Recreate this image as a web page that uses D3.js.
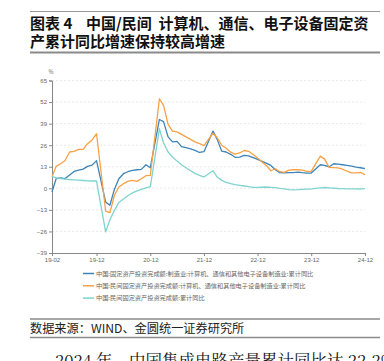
<!DOCTYPE html>
<html>
<head>
<meta charset="utf-8">
<script src="https://cdn.jsdelivr.net/npm/d3@7"></script>
<style>
  body { margin: 0; background: #fff; }
  svg { display: block; font-family: "Noto Sans CJK SC", "Noto Sans", sans-serif; }
</style>
</head>
<body>
<div id="chart"></div>
<script>
const years = [2019, 2020, 2021, 2022, 2023, 2024];
const months = [2, 3, 4, 5, 6, 7, 8, 9, 10, 11, 12];

// 中国:固定资产投资完成额:制造业:计算机、通信和其他电子设备制造业:累计同比
const chinaIct = [
    -2.2, 5.8, 6.3, 5.9, 8.0, 10.2, 11.0, 11.6, 13.2, 14.0, 16.7,
    -8.3, -10.2, -0.5, 5.8, 8.8, 10.0, 10.8, 11.2, 11.4, 14.2, 12.4,
    41.5, 40.2, 31.0, 28.0, 28.3, 25.1, 24.5, 23.8, 22.9, 21.6, 22.1,
    34.5, 29.5, 22.4, 21.9, 20.5, 18.7, 18.8, 19.8, 19.6, 18.5, 17.5,
    15.0, 13.8, 11.2, 9.4, 9.3, 9.4, 9.5, 9.8, 9.4, 9.2, 9.2,
    14.2, 13.8, 12.9, 14.8, 14.6, 14.2, 13.8, 13.4, 12.8, 12.4, 11.8
];
// 中国:民间固定资产投资完成额:计算机、通信和其他电子设备制造业:累计同比
const privateIct = [
    6.9, 13.2, 14.8, 16.8, 21.9, 22.3, 23.5, 23.5, 26.9, 29.2, 32.9,
    -13.7, -14.7, -4.2, 0.8, 2.8, 4.2, 4.8, 4.2, 5.8, 7.6, 7.8,
    54.0, 50.0, 38.5, 34.5, 34.0, 32.5, 31.0, 29.5, 28.0, 27.0, 25.7,
    33.2, 30.5, 26.0, 24.2, 21.8, 20.6, 21.3, 22.8, 22.3, 20.4, 18.3,
    13.5, 10.6, 11.8, 10.0, 9.6, 11.0, 11.2, 11.2, 11.0, 10.2, 10.2,
    19.4, 17.6, 12.6, 12.5, 12.3, 11.6, 10.3, 9.3, 9.3, 9.6, 8.2
];
// 中国:民间固定资产投资完成额:累计同比
const privateAll = [
    7.2, 6.3, 5.8, 5.6, 5.3, 5.1, 4.9, 4.7, 4.5, 4.4, 4.4,
    -26.3, -19.0, -13.3, -8.5, -6.5, -4.5, -2.8, -1.5, -0.7, 0.2, 1.0,
    35.9, 27.5, 21.9, 18.9, 16.4, 14.2, 12.4, 10.6, 9.0, 7.8, 6.8,
    10.6, 6.8, 4.8, 3.6, 2.8, 2.2, 1.8, 1.4, 1.0, 0.6, 0.6,
    0.8, 0.6, 0.4, -0.1, -0.4, -0.8, -0.9, -0.8, -0.6, -0.5, -0.4,
    0.3, 0.5, 0.3, 0.1, -0.1, -0.2, -0.3, -0.3, -0.3, -0.4, -0.2
];

const yTicks = [-39, -26, -13, 0, 13, 26, 39, 52, 65];
const xTickLabels = ["19-02", "19-12", "20-12", "21-12", "22-12", "23-12", "24-12"];

const seriesNames = [
    "中国:固定资产投资完成额:制造业:计算机、通信和其他电子设备制造业:累计同比",
    "中国:民间固定资产投资完成额:计算机、通信和其他电子设备制造业:累计同比",
    "中国:民间固定资产投资完成额:累计同比"
];
const seriesColors = ["#3d84b8", "#f7a145", "#7fd4cf"];

const dates = [];
years.forEach(y => months.forEach(m => dates.push(new Date(y, m - 1, 1))));
const series = [chinaIct, privateIct, privateAll];

const width = 384, height = 361;
const svg = d3.select("#chart")
    .append("svg")
    .attr("width", width)
    .attr("height", height);

// title block
svg.append("line")
    .attr("x1", 30).attr("x2", 380).attr("y1", 11.5).attr("y2", 11.5)
    .attr("stroke", "#9a9a9a").attr("stroke-width", 1);
svg.append("text")
    .attr("x", 30).attr("y", 29)
    .attr("font-size", 15).attr("font-weight", "bold").attr("fill", "#111")
    .attr("xml:space", "preserve")
    .text("图表 4    中国/民间  计算机、通信、电子设备固定资");
svg.append("text")
    .attr("x", 30).attr("y", 47)
    .attr("font-size", 15).attr("font-weight", "bold").attr("fill", "#111")
    .text("产累计同比增速保持较高增速");
svg.append("line")
    .attr("x1", 30).attr("x2", 380).attr("y1", 52.5).attr("y2", 52.5)
    .attr("stroke", "#8a8a8a").attr("stroke-width", 2);

// scales
const x = d3.scaleTime()
    .domain([new Date(2019, 1, 1), new Date(2024, 11, 1)])
    .range([52, 365]);
const y = d3.scaleLinear()
    .domain([-39, 65])
    .range([253, 80.5]);

const tickDates = xTickLabels.map(s => new Date(2000 + +s.slice(0, 2), +s.slice(3) - 1, 1));

// gridlines
svg.append("g")
    .selectAll("line")
    .data(yTicks.filter(d => d !== -39))
    .enter()
    .append("line")
    .attr("x1", 52).attr("x2", 365)
    .attr("y1", d => y(d)).attr("y2", d => y(d))
    .attr("stroke", "#dcdcdc")
    .attr("stroke-width", 0.6)
    .attr("stroke-dasharray", "2,2");

// axes
const yAxis = svg.append("g")
    .attr("transform", "translate(52,0)")
    .call(d3.axisLeft(y).tickValues(yTicks).tickSize(3).tickPadding(2));
const xAxis = svg.append("g")
    .attr("transform", "translate(0,253)")
    .call(d3.axisBottom(x).tickValues(tickDates).tickSize(3).tickPadding(2)
        .tickFormat((d, i) => xTickLabels[i]));
[yAxis, xAxis].forEach(g => {
    g.selectAll("path, line").attr("stroke", "#888");
    g.selectAll("text").attr("fill", "#666").attr("font-size", 6)
        .attr("font-family", "Liberation Sans, Arial, sans-serif");
});

svg.append("text")
    .attr("x", 51).attr("y", 73.5)
    .attr("font-size", 5.5).attr("fill", "#666")
    .attr("text-anchor", "middle")
    .text("%");

// lines
const line = d3.line()
    .x((d, i) => x(dates[i]))
    .y(d => y(d));

svg.append("g")
    .selectAll("path")
    .data(series)
    .enter()
    .append("path")
    .attr("d", line)
    .attr("fill", "none")
    .attr("stroke", (d, i) => seriesColors[i])
    .attr("stroke-width", 1.3)
    .attr("stroke-linejoin", "round");

// legend
const legend = svg.append("g")
    .selectAll("g")
    .data(seriesNames)
    .enter()
    .append("g")
    .attr("transform", (d, i) => `translate(83,${273.5 + i * 12.3})`);
legend.append("line")
    .attr("x1", 0).attr("x2", 11)
    .attr("stroke", (d, i) => seriesColors[i])
    .attr("stroke-width", 1.5);
legend.append("text")
    .attr("x", 13).attr("y", 2.2)
    .attr("font-size", 6.2).attr("fill", "#666")
    .text(d => d);

// source
svg.append("line")
    .attr("x1", 30).attr("x2", 380).attr("y1", 319).attr("y2", 319)
    .attr("stroke", "#8a8a8a").attr("stroke-width", 1.5);
svg.append("text")
    .attr("x", 30).attr("y", 332.5)
    .attr("font-size", 12.2).attr("fill", "#222")
    .text("数据来源：WIND、金圆统一证券研究所");
svg.append("line")
    .attr("x1", 30).attr("x2", 380).attr("y1", 337.5).attr("y2", 337.5)
    .attr("stroke", "#8a8a8a").attr("stroke-width", 1.5);

// body text (cut off at the bottom edge)
svg.append("text")
    .attr("x", 55).attr("y", 367)
    .attr("font-size", 16.5).attr("fill", "#111")
    .attr("font-family", "Noto Serif CJK SC, Noto Sans CJK SC, serif")
    .text("2024 年，中国集成电路产量累计同比达 22.2%");
</script>
</body>
</html>
